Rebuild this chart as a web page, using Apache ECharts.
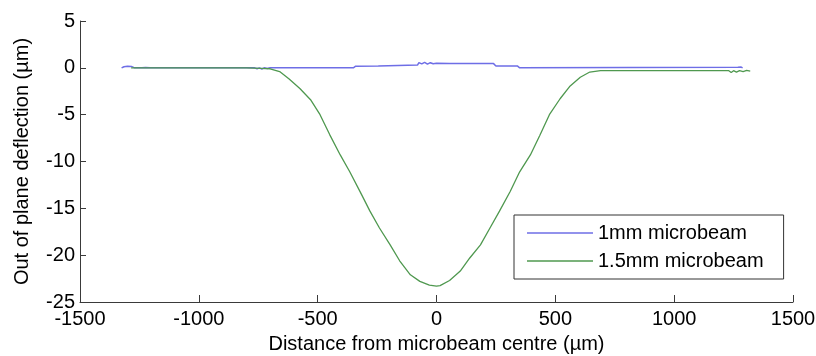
<!DOCTYPE html>
<html>
<head>
<meta charset="utf-8">
<script src="https://cdn.jsdelivr.net/npm/echarts@6/dist/echarts.min.js"></script>
<style>
  html, body { margin: 0; padding: 0; background: #fff; }
  #chart { width: 816px; height: 356px; }
</style>
</head>
<body>
<div id="chart"></div>
<script>
// x ticks / y ticks
var xTicks = [-1500, -1000, -500, 0, 500, 1000, 1500];
var yTicks = [-25, -20, -15, -10, -5, 0, 5];

// 1mm microbeam
var blueX = [-1325, -1315, -1308, -1300, -1292, -1284, -1270, -1240, -1232, -1224,
             -1216, -1205, -765, -755, -745, -735, -725, -712, -700, -350,
             -340, -245, -238, -80, -74, -62, -50, -38, -26, -14,
             0, 55, 240, 250, 340, 350, 1268, 1276, 1282, 1288];
var blueY = [0, 0.12, 0.02, 0.18, 0.05, 0.15, 0, 0, 0.14, 0.03,
             0.12, 0, 0, -0.1, 0, -0.12, 0, -0.08, 0, 0,
             0.18, 0.2, 0.3, 0.3, 0.55, 0.42, 0.58, 0.4, 0.55, 0.43,
             0.5, 0.45, 0.45, 0.2, 0.2, 0, 0.05, 0.22, 0.08, 0];

// 1.5mm microbeam
var greenX = [-1285, -800, -740, -700, -660, -620, -575, -530, -490, -450,
              -405, -365, -320, -280, -240, -195, -155, -110, -70, -30,
              0, 15, 55, 100, 140, 185, 225, 265, 310, 350,
              395, 435, 475, 520, 560, 605, 645, 690, 1230, 1240,
              1250, 1262, 1275, 1290, 1305, 1320];
var greenY = [0, 0, -0.05, -0.1, -0.4, -1.2, -2.2, -3.4, -5.0, -7.1,
              -9.3, -11.1, -13.3, -15.3, -17.1, -18.9, -20.6, -22.1, -22.8, -23.2,
              -23.3, -23.25, -22.7, -21.7, -20.3, -18.9, -17.1, -15.3, -13.2, -11.1,
              -9.3, -7.2, -5.0, -3.3, -2.0, -1.0, -0.45, -0.3, -0.3, -0.5,
              -0.3, -0.45, -0.3, -0.4, -0.28, -0.35];

function pairs(xs, ys) {
    return xs.map(function (x, i) { return [x, ys[i]]; });
}

var FONT = 'Liberation Sans, Arial, sans-serif';
var axisColor = '#3a3a3a';
var blue = '#6e6ee6', green = '#4f984f';

var myChart = echarts.init(document.getElementById('chart'), null, { renderer: 'canvas' });
myChart.setOption({
    animation: false,
    backgroundColor: '#fff',
    textStyle: { fontFamily: FONT },
    grid: { left: 80, right: 23, top: 21, bottom: 54, containLabel: false, outerBoundsMode: 'none' },
    legend: {
        orient: 'vertical',
        left: 514,
        top: 215,
        padding: [8, 20, 8, 13],
        icon: 'rect',
        itemWidth: 66,
        itemHeight: 1.5,
        itemGap: 8,
        borderColor: '#333',
        borderWidth: 1,
        borderRadius: 0,
        backgroundColor: '#fff',
        textStyle: { fontSize: 20, color: '#000', fontFamily: FONT },
        data: [
            { name: '1mm microbeam', itemStyle: { color: blue } },
            { name: '1.5mm microbeam', itemStyle: { color: green } }
        ]
    },
    xAxis: {
        type: 'value',
        min: xTicks[0],
        max: xTicks[xTicks.length - 1],
        interval: 500,
        name: 'Distance from microbeam centre (µm)',
        nameLocation: 'middle',
        nameGap: 32,
        nameTextStyle: { fontSize: 20, color: '#000', fontFamily: FONT },
        axisLine: { onZero: false, lineStyle: { color: axisColor, width: 1 } },
        axisTick: { inside: true, length: 7, lineStyle: { color: axisColor } },
        axisLabel: { margin: 7, fontSize: 20, color: '#000', fontFamily: FONT,
                     formatter: function (v) { return String(v); } },
        splitLine: { show: false }
    },
    yAxis: {
        type: 'value',
        min: yTicks[0],
        max: yTicks[yTicks.length - 1],
        interval: 5,
        name: 'Out of plane deflection (µm)',
        nameLocation: 'middle',
        nameGap: 48,
        nameTextStyle: { fontSize: 20, color: '#000', fontFamily: FONT },
        axisLine: { show: true, onZero: false, lineStyle: { color: axisColor, width: 1 } },
        axisTick: { show: true, inside: true, length: 6, lineStyle: { color: axisColor } },
        axisLabel: { margin: 5, fontSize: 20, color: '#000', fontFamily: FONT,
                     formatter: function (v) { return String(v); } },
        splitLine: { show: false }
    },
    series: [
        {
            name: '1mm microbeam',
            type: 'line',
            data: pairs(blueX, blueY),
            symbol: 'none',
            smooth: false,
            lineStyle: { color: blue, width: 1.5 },
            itemStyle: { color: blue }
        },
        {
            name: '1.5mm microbeam',
            type: 'line',
            data: pairs(greenX, greenY),
            symbol: 'none',
            smooth: false,
            lineStyle: { color: green, width: 1.3 },
            itemStyle: { color: green }
        }
    ]
});
</script>
</body>
</html>
